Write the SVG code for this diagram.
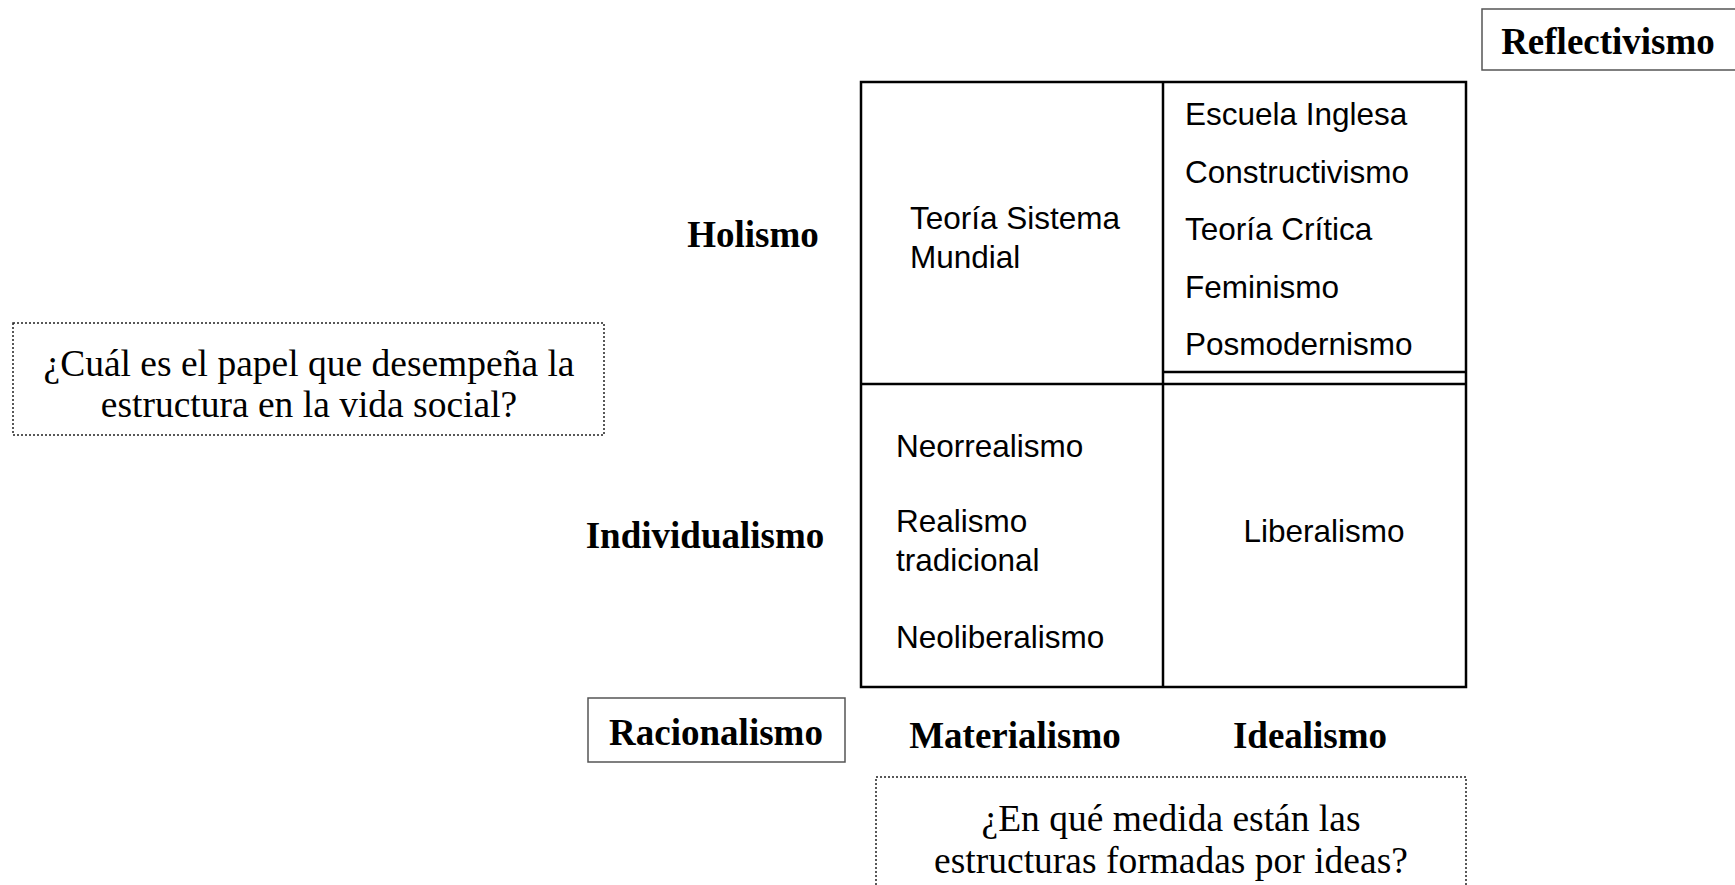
<svg xmlns="http://www.w3.org/2000/svg" width="1735" height="885" viewBox="0 0 1735 885">
<style>
.lbl{font-family:"Liberation Serif","Times New Roman",serif;font-weight:bold;font-size:37px;fill:#000}
.q{font-family:"Liberation Serif","Times New Roman",serif;font-size:37.5px;fill:#000}
.t{font-family:"Liberation Sans",Arial,sans-serif;font-size:31.5px;fill:#000}
.box{fill:#fff;stroke:#555;stroke-width:1.5}
.dot{fill:#fff;stroke:#222;stroke-width:1.5;stroke-dasharray:2 2}
.grid{fill:none;stroke:#000;stroke-width:2.5}
</style>
<rect width="1735" height="885" fill="#fff"/>
<g id="reflectivismo">
<rect class="box" x="1482" y="9" width="260" height="61"/>
<text class="lbl" x="1608" y="54" text-anchor="middle">Reflectivismo</text>
</g>
<g id="grid">
<rect class="grid" x="861" y="82" width="605" height="605"/>
<line class="grid" x1="1163" y1="82" x2="1163" y2="687"/>
<line class="grid" x1="861" y1="384" x2="1466" y2="384"/>
<line class="grid" x1="1163" y1="372" x2="1466" y2="372"/>
</g>
<g id="cell-holismo-materialismo">
<text class="t" x="910" y="229">Teoría Sistema</text>
<text class="t" x="910" y="268">Mundial</text>
</g>
<g id="cell-holismo-idealismo">
<text class="t" x="1185" y="125">Escuela Inglesa</text>
<text class="t" x="1185" y="183">Constructivismo</text>
<text class="t" x="1185" y="240">Teoría Crítica</text>
<text class="t" x="1185" y="298">Feminismo</text>
<text class="t" x="1185" y="355">Posmodernismo</text>
</g>
<g id="cell-individualismo-materialismo">
<text class="t" x="896" y="457">Neorrealismo</text>
<text class="t" x="896" y="532">Realismo</text>
<text class="t" x="896" y="571">tradicional</text>
<text class="t" x="896" y="648">Neoliberalismo</text>
</g>
<g id="cell-individualismo-idealismo">
<text class="t" x="1324" y="542" text-anchor="middle">Liberalismo</text>
</g>
<g id="holismo"><text class="lbl" x="753" y="247" text-anchor="middle">Holismo</text></g>
<g id="individualismo"><text class="lbl" x="705" y="548" text-anchor="middle">Individualismo</text></g>
<g id="racionalismo">
<rect class="box" x="588" y="698" width="257" height="64"/>
<text class="lbl" x="716" y="745" text-anchor="middle">Racionalismo</text>
</g>
<g id="materialismo"><text class="lbl" x="1015" y="748" text-anchor="middle">Materialismo</text></g>
<g id="idealismo"><text class="lbl" x="1310" y="748" text-anchor="middle">Idealismo</text></g>
<g id="pregunta-estructura">
<rect class="dot" x="13" y="323" width="591" height="112"/>
<text class="q" x="309" y="376" text-anchor="middle">¿Cuál es el papel que desempeña la</text>
<text class="q" x="309" y="417" text-anchor="middle">estructura en la vida social?</text>
</g>
<g id="pregunta-ideas">
<rect class="dot" x="876" y="777" width="590" height="120"/>
<text class="q" x="1171" y="831" text-anchor="middle">¿En qué medida están las</text>
<text class="q" x="1171" y="873" text-anchor="middle">estructuras formadas por ideas?</text>
</g>
<g id="connectors"></g>
</svg>
